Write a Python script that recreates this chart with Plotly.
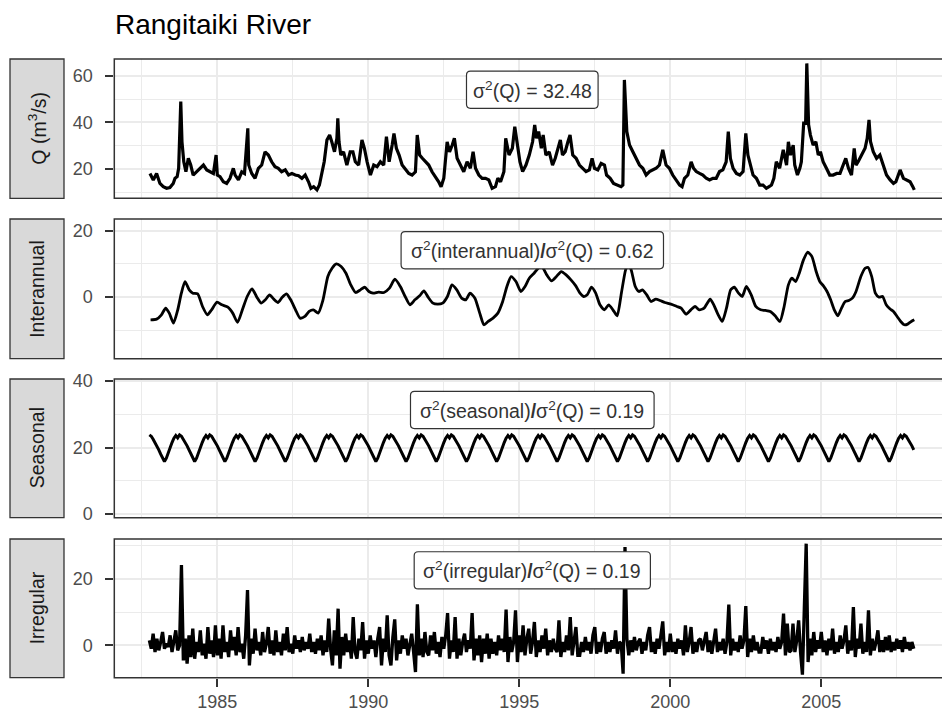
import numpy as np
import plotly.graph_objects as go

# ---- Daily flow Q (m3/s), sampled readings ----
q_year = [
    1982.77, 1982.88, 1982.99, 1983.10, 1983.21, 1983.32, 1983.43, 1983.54, 1983.60, 1983.67,
    1983.72, 1983.76, 1983.79, 1983.83, 1983.89, 1983.96, 1984.04, 1984.12, 1984.20, 1984.31,
    1984.42, 1984.54, 1984.65, 1984.76, 1984.87, 1984.96, 1985.00, 1985.09, 1985.20, 1985.31,
    1985.42, 1985.53, 1985.59, 1985.70, 1985.81, 1985.90, 1985.97, 1986.01, 1986.04, 1986.14,
    1986.25, 1986.36, 1986.47, 1986.58, 1986.69, 1986.80, 1986.91, 1987.02, 1987.13, 1987.25,
    1987.36, 1987.47, 1987.58, 1987.69, 1987.80, 1987.91, 1988.02, 1988.10, 1988.19, 1988.30,
    1988.38, 1988.46, 1988.54, 1988.63, 1988.72, 1988.79, 1988.88, 1988.96, 1988.99, 1989.03,
    1989.09, 1989.18, 1989.29, 1989.40, 1989.49, 1989.57, 1989.68, 1989.79, 1989.87, 1989.96,
    1990.07, 1990.18, 1990.29, 1990.40, 1990.51, 1990.60, 1990.69, 1990.79, 1990.85, 1990.93,
    1991.02, 1991.12, 1991.23, 1991.34, 1991.45, 1991.56, 1991.62, 1991.70, 1991.79, 1991.89,
    1992.00, 1992.11, 1992.22, 1992.33, 1992.41, 1992.50, 1992.61, 1992.69, 1992.78, 1992.85,
    1992.94, 1993.05, 1993.16, 1993.27, 1993.38, 1993.47, 1993.55, 1993.66, 1993.77, 1993.88,
    1993.99, 1994.10, 1994.21, 1994.29, 1994.38, 1994.49, 1994.55, 1994.66, 1994.77, 1994.85,
    1994.94, 1995.02, 1995.11, 1995.22, 1995.33, 1995.44, 1995.51, 1995.57, 1995.64, 1995.73,
    1995.79, 1995.88, 1995.99, 1996.10, 1996.19, 1996.27, 1996.36, 1996.43, 1996.52, 1996.61,
    1996.68, 1996.77, 1996.88, 1996.99, 1997.10, 1997.21, 1997.32, 1997.41, 1997.49, 1997.60,
    1997.71, 1997.82, 1997.89, 1998.01, 1998.12, 1998.26, 1998.37, 1998.43, 1998.48, 1998.56,
    1998.65, 1998.76, 1998.87, 1998.98, 1999.09, 1999.20, 1999.31, 1999.42, 1999.53, 1999.64,
    1999.75, 1999.86, 1999.97, 2000.08, 2000.20, 2000.31, 2000.39, 2000.47, 2000.58, 2000.69,
    2000.77, 2000.86, 2000.97, 2001.08, 2001.19, 2001.30, 2001.41, 2001.52, 2001.63, 2001.74,
    2001.85, 2001.92, 2001.99, 2002.08, 2002.19, 2002.30, 2002.41, 2002.50, 2002.57, 2002.65,
    2002.74, 2002.85, 2002.96, 2003.07, 2003.18, 2003.27, 2003.35, 2003.43, 2003.51, 2003.62,
    2003.74, 2003.85, 2003.91, 2003.98, 2004.07, 2004.12, 2004.21, 2004.29, 2004.34, 2004.42,
    2004.48, 2004.52, 2004.58, 2004.64, 2004.73, 2004.82, 2004.90, 2004.97, 2005.06, 2005.17,
    2005.28, 2005.39, 2005.51, 2005.62, 2005.73, 2005.81, 2005.90, 2006.00, 2006.09, 2006.15,
    2006.22, 2006.33, 2006.45, 2006.52, 2006.58, 2006.63, 2006.72, 2006.83, 2006.94, 2007.05,
    2007.16, 2007.28, 2007.39, 2007.47, 2007.55, 2007.61, 2007.72, 2007.83, 2007.94, 2008.03,
    2008.08,
]
q_flow = [
    18.1, 15.3, 18.1, 13.8, 12.4, 11.7, 12.0, 13.8, 16.0, 16.7,
    20.3, 35.0, 49.0, 31.7, 23.1, 18.8, 24.6, 21.7, 17.4, 18.8,
    20.3, 21.7, 19.6, 18.8, 18.1, 26.0, 17.4, 16.7, 14.5, 13.8,
    16.0, 20.3, 17.4, 15.3, 18.8, 18.1, 33.2, 37.5, 21.7, 18.1,
    16.0, 20.3, 21.7, 27.4, 26.0, 23.1, 21.0, 20.3, 18.8, 19.6,
    17.4, 18.1, 17.4, 17.1, 16.0, 17.4, 14.5, 11.7, 12.4, 11.0,
    13.1, 17.4, 23.1, 32.5, 34.6, 31.7, 27.4, 33.2, 41.8, 31.7,
    26.0, 27.4, 21.7, 27.4, 27.4, 23.1, 21.7, 32.5, 28.9, 23.1,
    17.4, 21.7, 21.0, 23.1, 21.7, 33.9, 23.1, 30.3, 35.3, 28.9,
    26.0, 21.7, 19.6, 18.1, 17.4, 18.8, 34.6, 26.0, 24.6, 23.1,
    21.7, 18.8, 16.7, 14.5, 12.4, 16.0, 31.7, 27.4, 30.3, 33.2,
    24.6, 21.7, 18.8, 23.1, 20.3, 27.4, 20.3, 17.4, 16.0, 16.0,
    15.3, 11.7, 12.4, 16.0, 14.5, 18.8, 33.2, 26.0, 28.9, 38.2,
    30.3, 23.1, 18.9, 21.7, 26.0, 31.7, 38.9, 33.2, 36.1, 28.9,
    34.6, 26.0, 27.4, 21.7, 24.6, 28.9, 32.5, 26.0, 27.4, 31.7,
    34.6, 26.0, 24.6, 21.7, 20.3, 18.9, 19.6, 24.6, 20.3, 19.6,
    22.4, 21.7, 17.4, 16.0, 13.8, 13.1, 12.4, 13.1, 58.3, 36.1,
    30.3, 27.4, 24.6, 21.7, 20.3, 17.4, 18.9, 19.6, 20.3, 21.7,
    28.2, 21.7, 20.3, 17.4, 15.3, 13.1, 12.4, 16.0, 17.4, 23.1,
    20.3, 18.9, 18.1, 17.4, 16.0, 15.3, 16.0, 16.0, 18.9, 19.6,
    23.1, 36.1, 24.6, 20.3, 18.1, 17.4, 18.9, 35.3, 26.0, 21.7,
    17.4, 16.0, 13.1, 13.1, 11.7, 12.4, 13.1, 16.0, 23.1, 20.3,
    28.2, 21.7, 31.7, 26.0, 30.3, 21.7, 17.4, 20.3, 23.1, 40.4,
    39.0, 65.4, 39.0, 34.6, 30.3, 31.7, 26.0, 27.4, 23.1, 20.3,
    17.4, 17.4, 18.1, 18.1, 21.7, 24.6, 20.3, 17.4, 28.9, 21.7,
    23.1, 26.0, 28.9, 33.2, 41.1, 31.7, 27.4, 24.6, 26.0, 21.7,
    17.4, 15.3, 13.8, 14.5, 18.1, 19.6, 16.0, 15.3, 14.5, 12.4,
    11.0,
]

# ---- Interannual component ----
ia_year = [
    1982.79, 1982.99, 1983.15, 1983.29, 1983.41, 1983.55, 1983.69, 1983.81, 1983.93, 1984.07,
    1984.19, 1984.35, 1984.51, 1984.67, 1984.81, 1984.99, 1985.15, 1985.35, 1985.51, 1985.67,
    1985.83, 1985.99, 1986.15, 1986.31, 1986.45, 1986.59, 1986.73, 1986.87, 1987.01, 1987.15,
    1987.29, 1987.43, 1987.59, 1987.74, 1987.90, 1988.04, 1988.18, 1988.34, 1988.50, 1988.66,
    1988.80, 1988.94, 1989.10, 1989.26, 1989.42, 1989.58, 1989.74, 1989.88, 1990.02, 1990.16,
    1990.34, 1990.52, 1990.70, 1990.88, 1991.06, 1991.22, 1991.38, 1991.54, 1991.70, 1991.84,
    1991.98, 1992.14, 1992.30, 1992.46, 1992.62, 1992.77, 1992.93, 1993.09, 1993.23, 1993.37,
    1993.53, 1993.69, 1993.83, 1993.97, 1994.13, 1994.29, 1994.45, 1994.59, 1994.73, 1994.89,
    1995.05, 1995.19, 1995.33, 1995.49, 1995.63, 1995.75, 1995.91, 1996.07, 1996.23, 1996.39,
    1996.55, 1996.71, 1996.87, 1997.01, 1997.13, 1997.25, 1997.39, 1997.53, 1997.67, 1997.82,
    1997.96, 1998.10, 1998.24, 1998.38, 1998.52, 1998.62, 1998.72, 1998.84, 1998.96, 1999.08,
    1999.22, 1999.36, 1999.52, 1999.66, 1999.82, 2000.02, 2000.22, 2000.36, 2000.52, 2000.68,
    2000.82, 2000.96, 2001.12, 2001.32, 2001.44, 2001.56, 2001.72, 2001.86, 2002.00, 2002.12,
    2002.26, 2002.38, 2002.52, 2002.68, 2002.83, 2002.99, 2003.15, 2003.31, 2003.47, 2003.63,
    2003.77, 2003.91, 2004.03, 2004.15, 2004.27, 2004.41, 2004.55, 2004.69, 2004.83, 2004.95,
    2005.07, 2005.19, 2005.31, 2005.43, 2005.55, 2005.67, 2005.79, 2005.91, 2006.03, 2006.15,
    2006.31, 2006.45, 2006.55, 2006.67, 2006.79, 2006.91, 2007.03, 2007.15, 2007.27, 2007.39,
    2007.51, 2007.63, 2007.75, 2007.86, 2007.98, 2008.08,
]
ia_value = [
    -6.8, -6.6, -5.3, -3.3, -4.8, -7.8, -3.8, 1.2, 4.7, 2.2,
    1.2, 1.0, -2.8, -5.3, -3.8, -1.5, -2.3, -3.0, -4.8, -7.6,
    -3.8, 0.2, 2.5, 0.0, -1.8, -0.8, 0.7, -0.6, -1.6, 0.0,
    1.0, -0.8, -3.8, -6.3, -5.8, -4.3, -3.8, -4.8, -0.8, 6.2,
    8.7, 10.0, 9.2, 7.2, 3.7, 1.4, 2.2, 3.0, 1.7, 1.2,
    1.5, 1.4, 2.7, 5.4, 3.2, 0.2, -2.3, -0.8, 0.4, 1.9,
    0.0, -1.8, -2.1, -1.8, 0.2, 3.7, 2.2, -0.3, -0.8, 1.2,
    -0.3, -4.8, -8.3, -7.3, -6.3, -4.8, -1.3, 3.2, 6.2, 4.7,
    1.7, 3.2, 5.7, 7.2, 8.7, 9.2, 6.7, 4.9, 6.2, 7.7,
    6.7, 5.2, 3.4, 1.2, 0.2, 0.7, 3.0, 1.2, -2.3, -3.8,
    -2.3, -3.8, -5.6, 1.2, 8.2, 10.2, 7.7, 3.2, 1.7, 2.2,
    0.7, -1.3, -0.6, -1.0, -1.6, -2.1, -2.8, -3.3, -5.1, -3.8,
    -2.8, -3.8, -3.3, -0.6, -2.3, -4.8, -7.3, -3.3, 2.2, 3.0,
    1.2, 0.2, 3.2, 0.7, -2.8, -3.8, -4.0, -4.3, -5.6, -7.3,
    -2.8, 3.7, 5.7, 4.7, 7.2, 11.2, 13.5, 12.2, 7.7, 4.7,
    3.4, 1.7, -0.8, -3.8, -5.6, -3.3, -1.3, -1.0, -0.3, 1.7,
    6.2, 8.7, 8.9, 6.2, 1.2, 0.0, 0.2, -2.3, -3.5, -4.3,
    -5.8, -7.3, -8.3, -8.1, -7.3, -6.8,
]

# ---- Seasonal component: one annual cycle in 1/16-year steps from 1 January ----
seasonal_cycle = [20.5, 19.3, 18.0, 16.8, 15.8, 16.8, 18.5, 20.0,
                  21.5, 22.8, 23.6, 22.9, 23.8, 23.4, 22.5, 21.5]

# ---- Irregular component, 1/16-year steps from 1982.75 ----
irregular = [
    1.5, -1.0, 3.5, -2.0,                                                                   # 1982
    2.0, -1.5, 1.0, 4.0, -1.0, 0.5, -0.5, 3.0, -2.0, 1.5, 4.5, -1.5, 0.0, 24.1, -4.5, 2.0,  # 1983
    -5.5, 3.0, -3.5, 5.0, -4.0, 1.0, -2.0, 4.5, -3.0, 0.5, -4.0, 5.5, -2.5, 1.5, -3.5, 6.0,  # 1984
    -3.0, 2.0, -4.0, 6.0, -2.0, 1.0, -3.5, 4.5, -1.5, 2.5, -3.0, 5.5, -2.0, 0.5, -4.0, 3.0,  # 1985
    16.6, -6.0, 2.0, -2.5, 5.0, -1.5, 1.0, -3.0, 4.0, -2.0, 0.5, 5.5, -2.5, 1.5, -3.0, 4.5,  # 1986
    -2.0, 1.0, -3.0, 3.5, -1.5, 5.5, -2.0, 0.5, -2.5, 3.0, -1.0, 1.5, -2.0, 2.5, -1.5, 1.0,  # 1987
    -1.0, 3.5, -2.0, 1.0, -2.5, 2.0, -1.5, 3.0, -3.0, 1.5, -2.0, 8.0, -1.0, -6.0, 4.5, -3.0,  # 1988
    11.0, -7.0, 2.5, -3.0, 3.5, -2.0, 1.5, -4.0, 8.5, -2.0, -4.0, 2.0, -1.5, 7.0, -4.0, 1.5,  # 1989
    -2.5, 3.0, -1.0, 1.5, -3.5, 2.0, 5.5, -6.0, 2.0, -2.0, 9.0, -3.0, -6.0, 2.5, 7.8, -4.5,  # 1990
    1.5, -2.5, 3.0, -1.0, 2.0, -3.0, 1.0, 3.5, -2.0, -8.0, 12.3, -3.0, 2.0, -3.5, 4.0, -2.0,  # 1991
    -3.0, 3.0, -1.5, 4.0, -2.5, 1.0, -3.5, 2.5, -1.0, 3.0, 9.7, -4.0, 1.5, -2.0, 8.5, -4.0,  # 1992
    2.0, -3.0, 1.0, 3.5, -2.0, 1.5, -1.0, 9.7, -4.5, 2.0, -3.0, 3.0, -5.0, 2.0, -2.5, 3.5,  # 1993
    -4.0, 2.0, -2.5, 1.0, -3.0, 3.0, -1.5, 2.0, -2.0, 10.7, -5.0, 2.5, -2.0, 1.0, 10.5, -5.0,  # 1994
    3.0, -2.0, 6.0, -3.0, 2.0, 5.0, -2.5, 1.0, 7.0, -3.5, 1.5, -2.0, 3.0, -1.0, 5.0, -3.0,  # 1995
    1.5, -2.0, 2.0, -1.0, -2.0, 7.5, -3.5, 1.0, -2.0, 3.0, -1.5, 8.5, -3.0, 2.0, 5.5, -3.0,  # 1996
    -3.0, 1.0, -2.0, 2.5, -1.5, 1.0, -2.5, 3.0, 5.5, -2.5, 1.0, -2.0, 2.0, 4.0, -2.5, 1.0,  # 1997
    -2.0, 1.5, -1.0, 4.5, -2.5, 1.0, 0.5, -8.5, 29.5, 2.0, -3.0, 1.5, -2.0, 2.5, -1.5, 1.0,  # 1998
    2.0, -2.5, 1.0, -1.5, 3.0, 5.5, -2.0, 1.0, -2.5, 2.0, -1.0, 3.0, 7.2, -3.0, 1.0, -2.0,  # 1999
    3.5, -2.0, 1.0, -2.5, 2.0, -1.0, 1.5, -3.0, 6.0, -2.0, 1.0, 5.5, -2.5, 1.0, -2.0, 1.5,  # 2000
    2.0, -1.5, 1.0, 4.0, -2.0, 1.5, -2.5, 1.0, 5.0, -2.0, 1.0, -1.5, 2.0, -2.5, 1.0, 12.2,  # 2001
    -3.0, 2.0, -1.5, 1.0, -2.0, 3.0, -1.0, 1.5, 11.8, -3.5, 2.0, -2.0, 3.0, -1.5, 1.0, -2.0,  # 2002
    -2.0, 2.5, -1.0, 1.5, -2.5, 2.0, -1.5, 1.0, -2.0, 2.5, -1.0, 1.0, 9.5, -3.0, 6.5, -2.0,  # 2003
    -1.5, 6.5, -2.0, 1.5, 7.5, -2.0, -8.8, 11.0, 30.5, -5.0, 2.0, -3.0, 4.0, -2.0, 1.5, -1.0,  # 2004
    4.0, -2.0, 1.5, -3.0, 2.0, -1.5, 5.0, -2.5, 1.0, -2.0, 3.0, -1.0, 1.5, 6.0, -2.5, 1.5,  # 2005
    -1.5, 11.5, -3.5, 2.0, -1.0, 6.5, -2.5, 1.0, -2.0, 10.5, -3.0, 2.0, -1.5, 1.0, 4.5, -2.0,  # 2006
    1.5, -2.0, 2.5, -1.5, 3.0, -2.0, 1.0, -1.5, 2.0, -1.0, 1.5, -2.0, 2.5, -1.0, 1.0, -1.5,  # 2007
    1.0, -1.0,                                                                              # 2008
]

grid_start = 1982.75
steps_per_year = 16
grid_time = grid_start + np.arange(len(irregular)) / steps_per_year
start_phase = int(round((grid_start % 1) * steps_per_year))
seasonal = np.resize(np.roll(seasonal_cycle, -start_phase), len(irregular))

title = "Rangitaiki River"
panel_labels = ["Q (m<sup>3</sup>/s)", "Interannual", "Seasonal", "Irregular"]
variance_notes = [
    "σ<sup>2</sup>(Q) = 32.48",
    "σ<sup>2</sup>(interannual)<b>/</b>σ<sup>2</sup>(Q) = 0.62",
    "σ<sup>2</sup>(seasonal)<b>/</b>σ<sup>2</sup>(Q) = 0.19",
    "σ<sup>2</sup>(irregular)<b>/</b>σ<sup>2</sup>(Q) = 0.19",
]

W, H = 942, 713
dark = "#333333"
grid = "#EBEBEB"
font = "Liberation Sans, Arial, sans-serif"

# panel layout (pixel rows) and axis settings
panel_px = [(59, 198.3), (219, 358.7), (379, 517.7), (539, 677.7)]
y_ranges = [[7.4, 67.3], [-18.5, 23.5], [-1.1, 40.6], [-9.7, 31.9]]
note_y = [54.1, 14.1, 31.3, 22.5]
note_halfw = [65.8, 131.2, 121.8, 118.1]
note_x = 1995.43
x_left_px, x_right_px = 114.3, 942
x_range = [1981.589, 2008.997]
line_widths = [3.2, 2.8, 3.0, 3.3]
tick_size = 18

fig = go.Figure()
series = [(q_year, q_flow, "linear"), (ia_year, ia_value, "spline"),
          (grid_time, seasonal, "linear"), (grid_time, irregular, "linear")]
for i, (xs, ys, shape) in enumerate(series):
    sfx = "" if i == 0 else str(i + 1)
    line = dict(color="black", width=line_widths[i], shape=shape)
    if shape == "spline":
        line["smoothing"] = 0.6
    fig.add_trace(go.Scatter(
        x=xs, y=ys, mode="lines", xaxis="x" + sfx, yaxis="y" + sfx,
        line=line, hoverinfo="skip", showlegend=False))

layout = dict(width=W, height=H, margin=dict(l=0, r=0, t=0, b=0, autoexpand=False),
              paper_bgcolor="white", plot_bgcolor="white", showlegend=False,
              font=dict(family=font, color="#4D4D4D"))
shapes, annotations = [], []


def rounded_box(hw, hh, r):
    return (f"M {-hw + r},{-hh} L {hw - r},{-hh} Q {hw},{-hh} {hw},{-hh + r} "
            f"L {hw},{hh - r} Q {hw},{hh} {hw - r},{hh} L {-hw + r},{hh} "
            f"Q {-hw},{hh} {-hw},{hh - r} L {-hw},{-hh + r} Q {-hw},{-hh} {-hw + r},{-hh} Z")


for i, (top, bot) in enumerate(panel_px):
    sfx = "" if i == 0 else str(i + 1)
    dom = [1 - bot / H, 1 - top / H]
    last = i == 3
    layout["xaxis" + sfx] = dict(
        domain=[x_left_px / W, x_right_px / W], range=x_range, anchor="y" + sfx,
        automargin=False,
        tick0=1985, dtick=5, showgrid=True, gridcolor=grid, gridwidth=2,
        zeroline=False, showline=False,
        ticks="outside" if last else "", ticklen=8, tickwidth=2, tickcolor=dark,
        showticklabels=last, tickfont=dict(size=tick_size, color="#4D4D4D"),
        ticklabelstandoff=0,
        minor=dict(tick0=1982.5, dtick=2.5, showgrid=True, gridcolor=grid, gridwidth=1, ticks=""),
    )
    layout["yaxis" + sfx] = dict(
        domain=dom, range=y_ranges[i], anchor="x" + sfx, automargin=False,
        tick0=0, dtick=20, showgrid=True, gridcolor=grid, gridwidth=2,
        zeroline=False, showline=False,
        ticks="outside", ticklen=8, tickwidth=2, tickcolor=dark,
        tickfont=dict(size=tick_size, color="#4D4D4D"), ticklabelstandoff=9,
        minor=dict(tick0=0, dtick=10, showgrid=True, gridcolor=grid, gridwidth=1, ticks=""),
    )
    # panel border (right side runs past the page edge)
    shapes.append(dict(type="rect", xref="x" + sfx + " domain", yref="y" + sfx + " domain",
                       x0=0, x1=1.05, y0=0, y1=1, line=dict(color=dark, width=1.5),
                       fillcolor="rgba(0,0,0,0)", layer="above"))
    # left strip
    shapes.append(dict(type="rect", xref="paper", yref="paper", x0=10 / W, x1=64 / W,
                       y0=dom[0], y1=dom[1], line=dict(color=dark, width=1.3),
                       fillcolor="#D9D9D9", layer="below"))
    annotations.append(dict(xref="paper", yref="paper", x=37 / W, y=(dom[0] + dom[1]) / 2,
                            xanchor="center", yanchor="middle",
                            text=panel_labels[i], textangle=-90, showarrow=False,
                            font=dict(size=19.5, color="#1A1A1A", family=font)))
    # variance label with rounded box
    shapes.append(dict(type="path", xref="x" + sfx, yref="y" + sfx,
                       xsizemode="pixel", ysizemode="pixel",
                       xanchor=note_x, yanchor=note_y[i],
                       path=rounded_box(note_halfw[i], 18.6, 4),
                       line=dict(color=dark, width=1.2), fillcolor="white", layer="above"))
    annotations.append(dict(xref="x" + sfx, yref="y" + sfx, x=note_x, y=note_y[i],
                            xanchor="center", yanchor="middle",
                            text=variance_notes[i], showarrow=False,
                            font=dict(size=19.5, color=dark, family=font)))

annotations.append(dict(xref="paper", yref="paper", x=113 / W, y=1 - 24 / H,
                        xanchor="left", yanchor="middle", text=title, showarrow=False,
                        font=dict(size=28, color="black", family=font)))

layout["shapes"] = shapes
layout["annotations"] = annotations
fig.update_layout(**layout)
fig.write_html("out.html")
